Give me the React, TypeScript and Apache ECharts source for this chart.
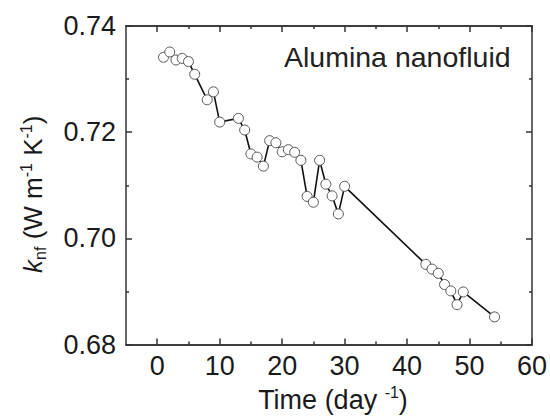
import React, { useEffect, useRef } from "react";
import * as echarts from "echarts";

const days = [1, 2, 3, 4, 5, 6, 8, 9, 10, 13, 14, 15, 16, 17, 18, 19, 20, 21, 22, 23, 24, 25, 26, 27, 28, 29, 30, 43, 44, 45, 46, 47, 48, 49, 54];
const kValues = [0.7341, 0.7351, 0.7336, 0.7339, 0.7333, 0.7309, 0.7261, 0.7276, 0.7219, 0.7226, 0.7204, 0.7159, 0.7153, 0.7136, 0.7184, 0.7180, 0.7163, 0.7167, 0.7162, 0.7147, 0.7079, 0.7068, 0.7147, 0.7102, 0.7080, 0.7046, 0.7098, 0.6951, 0.6942, 0.6934, 0.6913, 0.6901, 0.6875, 0.6899, 0.6852];
const xMajorTicks = [0, 10, 20, 30, 40, 50, 60];
const xMinorTicks = [5, 15, 25, 35, 45, 55];
const yTickLabels = ["0.68", "0.70", "0.72", "0.74"];
const annotation = "Alumina nanofluid";

const FONT = "'Liberation Sans', Arial, Helvetica, sans-serif";
const AX = "#333";
const TXT = "#1a1a1a";

export default function App() {
  const ref = useRef<HTMLDivElement>(null);
  useEffect(() => {
    document.body.style.margin = "0";
    const chart = echarts.init(ref.current!, null, { renderer: "svg" });
    const data = days.map((d, i) => [d, kValues[i]]);
    const lineStyle = { color: AX, width: 1.5 };
    const baseX = {
      type: "value" as const,
      min: -5,
      max: 60,
      splitLine: { show: false },
      axisLine: { show: true, onZero: false, lineStyle },
    };
    const option: any = {
      animation: false,
      backgroundColor: "#fff",
      textStyle: { fontFamily: FONT },
      grid: { left: 126, right: 17, top: 26, bottom: 72, containLabel: false },
      graphic: [
        {
          type: "text",
          x: 284,
          y: 42,
          style: { text: annotation, fontSize: 28.5, fontFamily: FONT, fill: "#222" },
        },
      ],
      xAxis: [
        {
          ...baseX,
          position: "bottom",
          axisTick: { show: true, inside: true, length: 6, customValues: xMajorTicks, lineStyle },
          axisLabel: { show: true, customValues: xMajorTicks, fontSize: 27, color: TXT, margin: 8, fontFamily: FONT },
          name: "{n|Time (day }{sup|-1}{n|)}",
          nameLocation: "middle",
          nameGap: 40,
          nameTextStyle: {
            padding: [0, 0, 0, 8],
            rich: {
              n: { fontSize: 27, color: TXT, fontFamily: FONT, lineHeight: 30 },
              sup: { fontSize: 16, color: TXT, fontFamily: FONT, verticalAlign: "top", lineHeight: 18 },
            },
          },
        },
        {
          ...baseX,
          position: "bottom",
          axisTick: { show: true, inside: true, length: 3, customValues: xMinorTicks, lineStyle },
          axisLabel: { show: false },
        },
        {
          ...baseX,
          position: "top",
          axisTick: { show: true, inside: true, length: 6, customValues: xMajorTicks, lineStyle },
          axisLabel: { show: false },
        },
        {
          ...baseX,
          position: "top",
          axisTick: { show: true, inside: true, length: 3, customValues: xMinorTicks, lineStyle },
          axisLabel: { show: false },
        },
      ],
      yAxis: [
        {
          type: "value",
          min: 0.68,
          max: 0.74,
          interval: 0.02,
          position: "left",
          splitLine: { show: false },
          axisLine: { show: true, onZero: false, lineStyle },
          axisTick: { show: true, inside: true, length: 6, lineStyle },
          minorTick: { show: true, splitNumber: 2, length: 3, lineStyle },
          axisLabel: {
            fontSize: 27,
            color: TXT,
            margin: 10,
            fontFamily: FONT,
            formatter: (v: number) => {
              const s = v.toFixed(2);
              return yTickLabels.includes(s) ? s : "";
            },
          },
          name: "{i|k}{sub|nf}{n| (W m}{sup|-1}{n| K}{sup|-1}{n|)}",
          nameLocation: "middle",
          nameGap: 78,
          nameTextStyle: {
            padding: [0, 18, 0, 0],
            rich: {
              i: { fontSize: 26, fontStyle: "italic", color: TXT, fontFamily: FONT, lineHeight: 30 },
              n: { fontSize: 26, color: TXT, fontFamily: FONT, lineHeight: 30 },
              sub: { fontSize: 16, color: TXT, fontFamily: FONT, verticalAlign: "bottom", lineHeight: 16 },
              sup: { fontSize: 16, color: TXT, fontFamily: FONT, verticalAlign: "top", lineHeight: 18 },
            },
          },
        },
        {
          type: "value",
          min: 0.68,
          max: 0.74,
          interval: 0.02,
          position: "right",
          splitLine: { show: false },
          axisLine: { show: true, onZero: false, lineStyle },
          axisTick: { show: true, inside: true, length: 6, lineStyle },
          minorTick: { show: true, splitNumber: 2, length: 3, lineStyle },
          axisLabel: { show: false },
        },
      ],
      series: [
        {
          type: "line",
          data,
          xAxisIndex: 0,
          yAxisIndex: 0,
          symbol: "circle",
          symbolSize: 10,
          lineStyle: { color: "#111", width: 1.6 },
          itemStyle: { color: "#fff", borderColor: "#555", borderWidth: 1 },
        },
      ],
    };
    chart.setOption(option);
    return () => chart.dispose();
  }, []);
  return <div ref={ref} style={{ width: 550, height: 418 }} />;
}
